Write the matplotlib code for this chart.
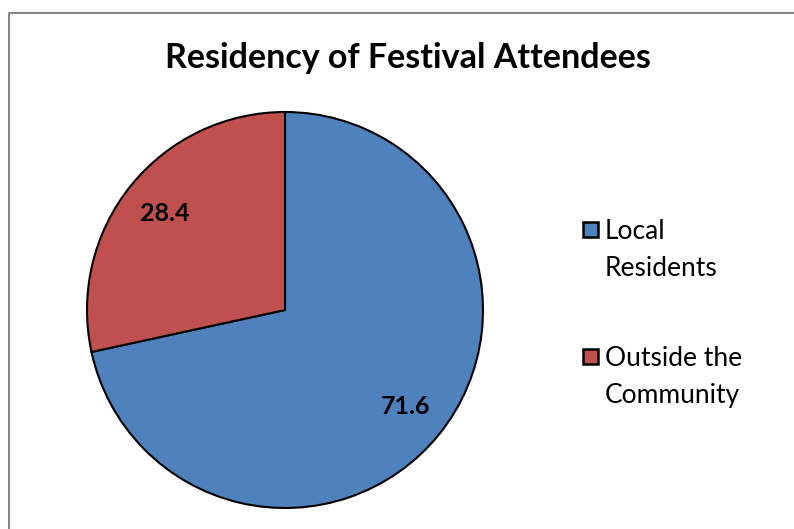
import matplotlib.pyplot as plt
from matplotlib.patches import Rectangle
from matplotlib.lines import Line2D

# data
labels = ["Local\nResidents", "Outside the\nCommunity"]
values = [71.6, 28.4]
colors = ["#4F81BD", "#C0504D"]

plt.rcParams['font.family'] = ['Lato', 'DejaVu Sans']

W, H = 794, 529
fig = plt.figure(figsize=(W / 100, H / 100), dpi=100)

# chart border (left and top edges visible)
fig.add_artist(Line2D([9 / W, 9 / W, 793 / W], [0, 1 - 13 / H, 1 - 13 / H],
                      color="#868686", lw=1.5, transform=fig.transFigure))

ax = fig.add_axes([87 / W, (H - 508) / H, 396 / W, 396 / H])
wedges, texts, autotexts = ax.pie(
    values, colors=colors, startangle=90, counterclock=False,
    autopct='%.1f', pctdistance=0.78,
    wedgeprops=dict(edgecolor="black", linewidth=1.5),
    textprops=dict(fontsize=18, fontweight="bold", color="black"))
ax.set_xlim(-1.0, 1.0)
ax.set_ylim(-1.0, 1.0)
ax.set_aspect("equal")

fig.text(408 / W, 1 - 58 / H, "Residency of Festival Attendees",
         ha="center", va="center", fontsize=24.5, fontweight="bold")

# legend
legend_y = [230, 357]
for lab, col, y in zip(labels, colors, legend_y):
    fig.add_artist(Rectangle((583 / W, 1 - (y + 7) / H), 15 / W, 15 / H,
                             facecolor=col, edgecolor="black", lw=1.8,
                             transform=fig.transFigure))
    fig.text(605 / W, 1 - (y - 11) / H, lab, ha="left", va="top",
             fontsize=19, linespacing=1.6)

fig.savefig("out.png", dpi=100)
